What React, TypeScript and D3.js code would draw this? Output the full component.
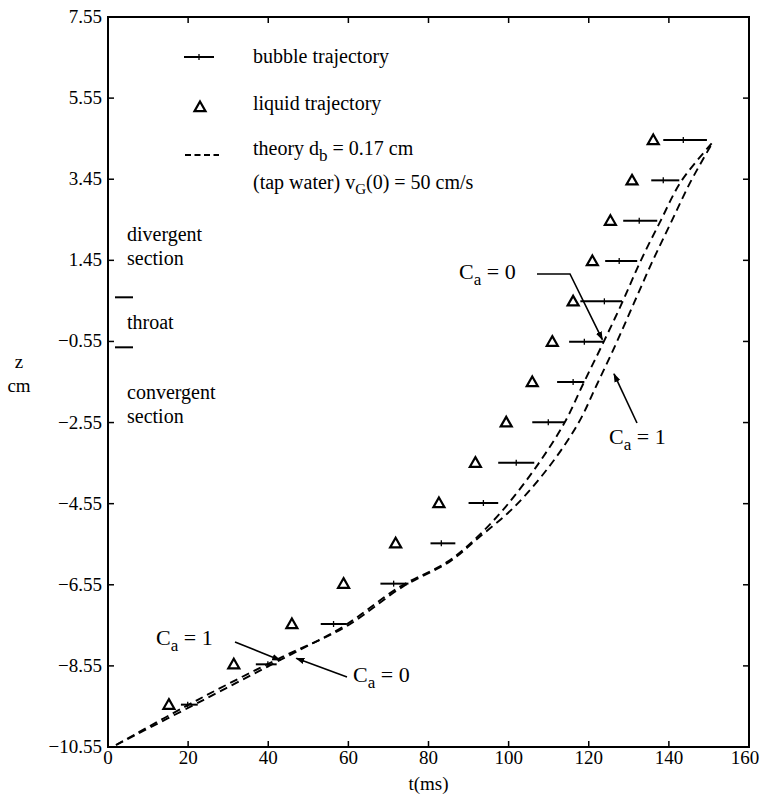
import * as d3 from "d3";

const W = 761;
const H = 801;

// tick labels as printed on the original figure
const xTicks = [0, 20, 40, 60, 80, 100, 120, 140, 160];
const yTickLabels = ["−10.55", "−8.55", "−6.55", "−4.55", "−2.55", "−0.55", "1.45", "3.45", "5.55", "7.55"];

// liquid trajectory (triangles)
const liquidT = [15.2, 31.4, 45.9, 58.8, 71.8, 82.6, 91.7, 99.4, 105.9, 110.9, 116.1, 120.9, 125.4, 130.8, 136.1];
const liquidZ = [-9.5, -8.5, -7.5, -6.5, -5.5, -4.5, -3.5, -2.5, -1.5, -0.5, 0.5, 1.5, 2.5, 3.5, 4.5];

// bubble trajectory (mean + horizontal spread)
const bubbleT = [19.9, 39.9, 56.3, 71.3, 83.2, 93.7, 101.9, 109.9, 116.1, 118.9, 123.9, 127.6, 132.6, 138.6, 143.6];
const bubbleLo = [18.2, 36.9, 53.1, 68.0, 80.5, 90.0, 97.4, 105.9, 112.1, 115.1, 117.9, 124.1, 128.6, 135.6, 138.6];
const bubbleHi = [22.4, 42.1, 59.6, 75.0, 86.7, 97.4, 106.4, 114.1, 118.9, 123.6, 128.3, 132.1, 137.1, 142.6, 149.5];
const bubbleZ = [-9.5, -8.5, -7.5, -6.5, -5.5, -4.5, -3.5, -2.5, -1.5, -0.5, 0.5, 1.5, 2.5, 3.5, 4.5];

// theory, Ca = 0
const theory0T = [2.0, 23.9, 44.4, 58.6, 72.8, 84.7, 92.0, 99.2, 107.2, 113.9, 118.6, 123.6, 128.3, 132.8, 137.8, 143.1, 151.0];
const theory0Z = [-10.5, -9.38, -8.32, -7.57, -6.58, -5.96, -5.36, -4.6, -3.56, -2.52, -1.55, -0.53, 0.46, 1.47, 2.47, 3.48, 4.45];
// theory, Ca = 1
const theory1T = [2.0, 22.4, 43.4, 59.3, 73.5, 85.2, 92.5, 101.4, 110.4, 117.4, 122.1, 126.9, 131.3, 135.8, 140.6, 145.5, 151.0];
const theory1Z = [-10.5, -9.38, -8.32, -7.57, -6.58, -5.96, -5.36, -4.6, -3.56, -2.52, -1.55, -0.53, 0.46, 1.47, 2.47, 3.48, 4.45];

const left = 108;
const right = 749;
const top = 17;
const bottom = 747;

const serif = "'Liberation Serif', 'DejaVu Serif', serif";

function Tri({ cx, cy }: { cx: number; cy: number }) {
  const s = 5.5;
  return (
    <path
      d={`M${cx},${cy - s}L${cx + s},${cy + s * 0.75}L${cx - s},${cy + s * 0.75}Z`}
      fill="none"
      stroke="#000"
      strokeWidth={2.2}
      strokeLinejoin="miter"
    />
  );
}

function CaLabel({ x, y, v }: { x: number; y: number; v: string }) {
  return (
    <text x={x} y={y} fontSize={22} fontFamily={serif}>
      C<tspan fontSize={17} dy={6}>a</tspan>
      <tspan dy={-6}> = {v}</tspan>
    </text>
  );
}

export default function App() {
  const x = d3.scaleLinear().domain([0, 160]).range([left, right]);
  const y = d3.scaleLinear().domain([-10.55, 7.55]).range([bottom, top]);
  const yTickPos = d3.scaleLinear().domain([0, yTickLabels.length - 1]).range([bottom, top]);

  const line = d3
    .line<[number, number]>()
    .x((d) => x(d[0]))
    .y((d) => y(d[1]))
    .curve(d3.curveCatmullRom.alpha(0.5));

  const th0 = line(theory0T.map((t, i) => [t, theory0Z[i]]));
  const th1 = line(theory1T.map((t, i) => [t, theory1Z[i]]));

  const dash = "8 5";

  return (
    <svg width={W} height={H} style={{ position: "absolute", left: 0, top: 0, background: "#fff" }}>
      <defs>
        <marker id="ah" viewBox="0 0 10 10" refX="9" refY="5" markerWidth="9" markerHeight="9" orient="auto-start-reverse" markerUnits="userSpaceOnUse">
          <path d="M0,1.5L10,5L0,8.5Z" fill="#000" />
        </marker>
      </defs>

      {/* frame */}
      <rect x={left} y={top} width={right - left} height={bottom - top} fill="none" stroke="#000" strokeWidth={2} />

      {/* x ticks */}
      {xTicks.map((t) => (
        <g key={`xt${t}`}>
          <line x1={x(t)} x2={x(t)} y1={bottom} y2={bottom - 6} stroke="#000" strokeWidth={1.5} />
          <line x1={x(t)} x2={x(t)} y1={top} y2={top + 6} stroke="#000" strokeWidth={1.5} />
          <text x={Math.min(x(t), 745)} y={764} textAnchor="middle" fontSize={19} fontFamily={serif}>
            {t}
          </text>
        </g>
      ))}
      <text x={x(80)} y={790} textAnchor="middle" fontSize={19} fontFamily={serif}>
        t(ms)
      </text>

      {/* y ticks */}
      {yTickLabels.map((lab, i) => (
        <g key={`yt${i}`}>
          <line x1={left} x2={left + 6} y1={yTickPos(i)} y2={yTickPos(i)} stroke="#000" strokeWidth={1.5} />
          <line x1={right} x2={right - 6} y1={yTickPos(i)} y2={yTickPos(i)} stroke="#000" strokeWidth={1.5} />
          <text x={left - 6} y={yTickPos(i) + 6} textAnchor="end" fontSize={19} fontFamily={serif}>
            {lab}
          </text>
        </g>
      ))}
      <text x={19} y={368} textAnchor="middle" fontSize={19} fontFamily={serif}>z</text>
      <text x={19} y={392} textAnchor="middle" fontSize={19} fontFamily={serif}>cm</text>

      {/* nozzle section notes */}
      <text x={127} y={241} fontSize={20} fontFamily={serif}>divergent</text>
      <text x={127} y={265} fontSize={20} fontFamily={serif}>section</text>
      <line x1={115} x2={133} y1={y(0.6)} y2={y(0.6)} stroke="#000" strokeWidth={2} />
      <text x={127} y={329} fontSize={20} fontFamily={serif}>throat</text>
      <line x1={115} x2={133} y1={y(-0.64)} y2={y(-0.64)} stroke="#000" strokeWidth={2} />
      <text x={127} y={399} fontSize={20} fontFamily={serif}>convergent</text>
      <text x={127} y={423} fontSize={20} fontFamily={serif}>section</text>

      {/* legend */}
      <line x1={184} x2={214} y1={57} y2={57} stroke="#000" strokeWidth={2} />
      <line x1={199} x2={199} y1={54} y2={60} stroke="#000" strokeWidth={1.3} />
      <text x={253} y={63} fontSize={20} fontFamily={serif}>bubble trajectory</text>
      <Tri cx={200} cy={107} />
      <text x={253} y={110} fontSize={20} fontFamily={serif}>liquid trajectory</text>
      <line x1={185} x2={219} y1={155} y2={155} stroke="#000" strokeWidth={1.8} strokeDasharray="6 3.5" />
      <text x={253} y={155} fontSize={20} fontFamily={serif}>
        theory d<tspan fontSize={17} dy={6}>b</tspan>
        <tspan dy={-6}> = 0.17 cm</tspan>
      </text>
      <text x={253} y={189} fontSize={20} fontFamily={serif}>
        (tap water) v<tspan fontSize={15} dy={5}>G</tspan>
        <tspan dy={-5}>(0) = 50 cm/s</tspan>
      </text>

      {/* theory curves */}
      <path d={th0 ?? ""} fill="none" stroke="#000" strokeWidth={1.9} strokeDasharray={dash} />
      <path d={th1 ?? ""} fill="none" stroke="#000" strokeWidth={1.9} strokeDasharray={dash} />

      {/* liquid trajectory */}
      {liquidT.map((t, i) => (
        <Tri key={`l${i}`} cx={x(t)} cy={y(liquidZ[i])} />
      ))}

      {/* bubble trajectory */}
      {bubbleT.map((t, i) => (
        <g key={`b${i}`}>
          <line x1={x(bubbleLo[i])} x2={x(bubbleHi[i])} y1={y(bubbleZ[i])} y2={y(bubbleZ[i])} stroke="#000" strokeWidth={2} />
          <line x1={x(t)} x2={x(t)} y1={y(bubbleZ[i]) - 3} y2={y(bubbleZ[i]) + 3} stroke="#000" strokeWidth={1.3} />
        </g>
      ))}

      {/* Ca annotations */}
      <CaLabel x={459} y={279} v="0" />
      <polyline
        points={`537,274 570,274 ${x(123.4)},${y(-0.45)}`}
        fill="none"
        stroke="#000"
        strokeWidth={1.6}
        markerEnd="url(#ah)"
      />
      <CaLabel x={609} y={444} v="1" />
      <line x1={637} y1={423} x2={x(126.3)} y2={y(-1.3)} stroke="#000" strokeWidth={1.6} markerEnd="url(#ah)" />
      <CaLabel x={156} y={645} v="1" />
      <line x1={235} y1={642} x2={x(43.0)} y2={y(-8.4)} stroke="#000" strokeWidth={1.6} markerEnd="url(#ah)" />
      <CaLabel x={353} y={682} v="0" />
      <line x1={347} y1={677} x2={x(47.0)} y2={y(-8.35)} stroke="#000" strokeWidth={1.6} markerEnd="url(#ah)" />
    </svg>
  );
}
